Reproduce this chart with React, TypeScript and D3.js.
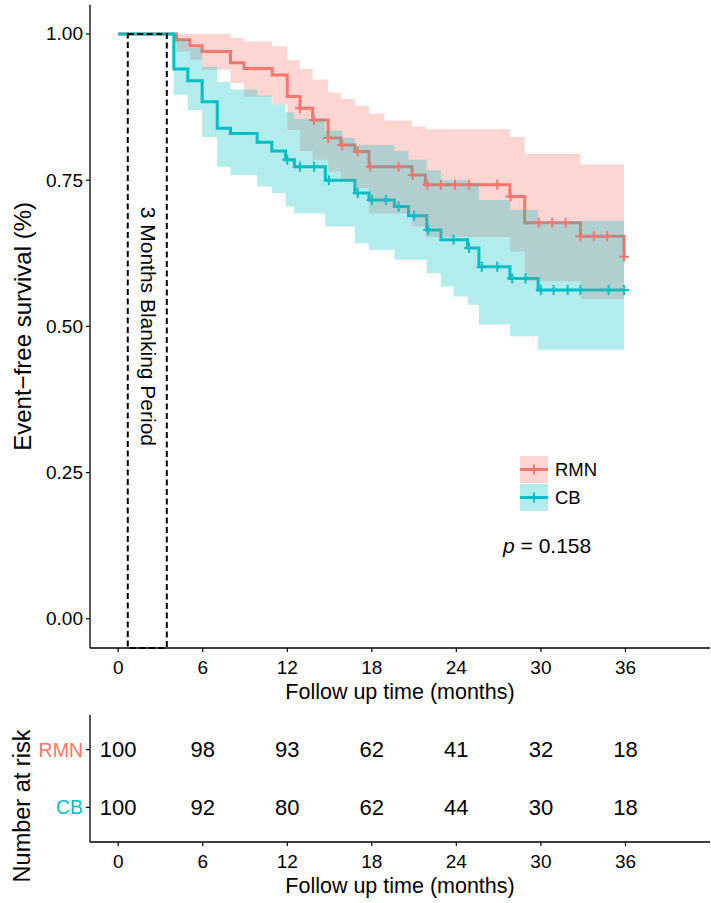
import React from "react";
import * as d3 from "d3";

// ---------- data ----------
const months = [0, 6, 12, 18, 24, 30, 36];
const yTicks = [0, 0.25, 0.5, 0.75, 1];
const groups = ["RMN", "CB"];
const colors = ["#F8766D", "#00BFC4"];

const rmnTime = [0, 4.14, 5.08, 5.96, 7.97, 8.92, 10.93, 12.0, 12.9, 13.8, 14.9, 15.8, 16.8, 17.8, 18.9, 20.85, 21.8, 27.8, 28.85, 32.8, 35.9];
const rmnSurv = [1, 0.99, 0.98, 0.97, 0.951, 0.941, 0.93, 0.893, 0.873, 0.853, 0.822, 0.81, 0.799, 0.773, 0.773, 0.759, 0.742, 0.722, 0.677, 0.654, 0.619];
const rmnUpper = [1, 1, 1, 1, 0.993, 0.987, 0.979, 0.955, 0.94, 0.922, 0.9, 0.889, 0.877, 0.864, 0.852, 0.842, 0.837, 0.824, 0.795, 0.777, 0.777];
const rmnLower = [1, 0.97, 0.956, 0.939, 0.916, 0.893, 0.88, 0.836, 0.8, 0.785, 0.765, 0.748, 0.736, 0.693, 0.693, 0.671, 0.653, 0.628, 0.577, 0.547, 0.547];
const rmnCensor = [12.9, 13.9, 14.9, 15.9, 17.0, 17.9, 19.9, 20.9, 21.95, 22.9, 23.9, 24.9, 26.9, 27.85, 29.85, 30.8, 31.75, 32.8, 33.75, 34.7, 35.9];

const cbTime = [0, 3.95, 4.94, 5.96, 7.03, 7.97, 9.86, 10.9, 11.87, 12.5, 14.7, 15.9, 16.8, 17.8, 19.6, 20.6, 21.9, 22.9, 23.8, 24.8, 25.6, 27.8, 29.8, 35.9];
const cbSurv = [1, 0.94, 0.92, 0.884, 0.839, 0.83, 0.815, 0.8, 0.785, 0.773, 0.75, 0.75, 0.728, 0.716, 0.705, 0.689, 0.665, 0.648, 0.648, 0.634, 0.602, 0.582, 0.5624, 0.5624];
const cbUpper = [1, 0.99, 0.976, 0.944, 0.918, 0.905, 0.895, 0.88, 0.866, 0.855, 0.835, 0.822, 0.81, 0.81, 0.8, 0.785, 0.767, 0.75, 0.75, 0.745, 0.716, 0.699, 0.68, 0.68];
const cbLower = [1, 0.896, 0.87, 0.824, 0.773, 0.759, 0.739, 0.728, 0.705, 0.693, 0.671, 0.671, 0.642, 0.631, 0.614, 0.614, 0.591, 0.568, 0.551, 0.537, 0.503, 0.483, 0.46, 0.46];
const cbCensor = [12.0, 12.9, 13.9, 14.95, 17.0, 18.0, 19.0, 19.9, 21.0, 22.0, 23.8, 24.9, 25.8, 26.9, 27.96, 28.9, 30.0, 30.9, 31.9, 32.8, 34.8, 35.9];

const riskRMN = [100, 98, 93, 62, 41, 32, 18];
const riskCB = [100, 92, 80, 62, 44, 30, 18];

const blanking = [0.68, 3.45];
const pValue = "0.158";

// ---------- layout ----------
const W = 711, H = 903;
const FONT = "'Liberation Sans', Arial, Helvetica, sans-serif";
const left = 90, right = 710;
const top = 4.75, bottom = 648;
const tTop = 715, tBottom = 842;

const x = d3.scaleLinear().domain([-2, 42]).range([left, right]);
const y = d3.scaleLinear().domain([-0.05, 1.05]).range([bottom, top]);
const yt = d3.scaleLinear().domain([0.4, 2.6]).range([tBottom, tTop]);

type Pt = { t: number; s: number; lo: number; hi: number };
const mk = (T: number[], S: number[], L: number[], U: number[]): Pt[] =>
  T.map((t, i) => ({ t, s: S[i], lo: L[i], hi: U[i] }));

const series = [
  { name: groups[0], color: colors[0], pts: mk(rmnTime, rmnSurv, rmnLower, rmnUpper), cens: rmnCensor },
  { name: groups[1], color: colors[1], pts: mk(cbTime, cbSurv, cbLower, cbUpper), cens: cbCensor },
];

const survAt = (pts: Pt[], t: number) => {
  let v = 1;
  for (const p of pts) if (p.t <= t + 1e-9) v = p.s;
  return v;
};

const line = d3.line<Pt>().x((d) => x(d.t)).y((d) => y(d.s)).curve(d3.curveStepAfter);
const area = d3.area<Pt>().x((d) => x(d.t)).y0((d) => y(d.lo)).y1((d) => y(d.hi)).curve(d3.curveStepAfter);

const Plus = ({ cx, cy, color, s = 5 }: { cx: number; cy: number; color: string; s?: number }) => (
  <path d={`M${cx - s},${cy}H${cx + s}M${cx},${cy - s}V${cy + s}`} stroke={color} strokeWidth={2} fill="none" />
);

const XAxis = ({ yPos }: { yPos: number }) => (
  <g>
    <line x1={left} x2={right} y1={yPos} y2={yPos} stroke="#000" strokeWidth={1.3} />
    {months.map((m) => (
      <g key={m}>
        <line x1={x(m)} x2={x(m)} y1={yPos} y2={yPos + 4} stroke="#000" strokeWidth={1.2} />
        <text x={x(m)} y={yPos + 26} textAnchor="middle" fontSize={19} fill="#000">{m}</text>
      </g>
    ))}
    <text x={(left + right) / 2} y={yPos + 51} textAnchor="middle" fontSize={21.5} fill="#000">Follow up time (months)</text>
  </g>
);

export default function App() {
  return (
    <svg width={W} height={H} style={{ position: "absolute", left: 0, top: 0, background: "#fff" }} fontFamily={FONT}>
      <rect width={W} height={H} fill="#fff" />
      {/* lines */}
      {series.map((s) => (
        <path key={s.name + "l"} d={line(s.pts) || ""} fill="none" stroke={s.color} strokeWidth={3} />
      ))}
      {/* ribbons */}
      {series.map((s) => (
        <path key={s.name + "a"} d={area(s.pts) || ""} fill={s.color} fillOpacity={0.3} stroke="none" />
      ))}
      {/* censor marks */}
      {series.map((s) => (
        <g key={s.name + "c"}>
          {s.cens.map((c, i) => (
            <Plus key={i} cx={x(c)} cy={y(survAt(s.pts, c))} color={s.color} />
          ))}
        </g>
      ))}
      {/* blanking period */}
      <rect x={x(blanking[0])} y={y(1)} width={x(blanking[1]) - x(blanking[0])} height={bottom - y(1)}
        fill="none" stroke="#000" strokeWidth={2} strokeDasharray="6,3.5" />
      <text transform={`translate(${x(blanking[0]) + (x(blanking[1]) - x(blanking[0])) / 2 + 1},${y(0.5)}) rotate(90)`}
        textAnchor="middle" dominantBaseline="central" fontSize={21} fill="#000">3 Months Blanking Period</text>

      {/* y axis */}
      <line x1={left} x2={left} y1={top} y2={bottom} stroke="#000" strokeWidth={1.3} />
      {yTicks.map((v) => (
        <g key={v}>
          <line x1={left - 4} x2={left} y1={y(v)} y2={y(v)} stroke="#000" strokeWidth={1.2} />
          <text x={left - 7} y={y(v)} textAnchor="end" dominantBaseline="central" fontSize={19} fill="#000">{v.toFixed(2)}</text>
        </g>
      ))}
      <text transform={`translate(22,${(top + bottom) / 2}) rotate(-90)`} textAnchor="middle" dominantBaseline="central" fontSize={24} fill="#000">Event−free survival (%)</text>
      <XAxis yPos={bottom} />

      {/* legend */}
      {series.map((s, i) => {
        const ky = 456 + i * 28;
        return (
          <g key={s.name + "leg"}>
            <rect x={520} y={ky} width={28} height={27} fill={s.color} fillOpacity={0.3} />
            <line x1={520} x2={548} y1={ky + 13.5} y2={ky + 13.5} stroke={s.color} strokeWidth={3} />
            <Plus cx={534} cy={ky + 13.5} color={s.color} />
            <text x={555} y={ky + 13.5} dominantBaseline="central" fontSize={18.5} fill="#000">{s.name}</text>
          </g>
        );
      })}
      <text x={503} y={553} fontSize={21} fill="#000"><tspan fontStyle="italic">p</tspan> = {pValue}</text>

      {/* risk table */}
      <line x1={left} x2={left} y1={tTop} y2={tBottom} stroke="#000" strokeWidth={1.3} />
      {[riskRMN, riskCB].map((row, gi) => {
        const lvl = 2 - gi;
        return (
          <g key={gi}>
            <line x1={left - 4} x2={left} y1={yt(lvl)} y2={yt(lvl)} stroke="#000" strokeWidth={1.2} />
            <text x={left - 7} y={yt(lvl)} textAnchor="end" dominantBaseline="central" fontSize={19.5} fill={colors[gi]}>{groups[gi]}</text>
            {row.map((n, j) => (
              <text key={j} x={x(months[j])} y={yt(lvl)} textAnchor="middle" dominantBaseline="central" fontSize={22} fill="#000">{n}</text>
            ))}
          </g>
        );
      })}
      <text transform={`translate(22,806) rotate(-90)`} textAnchor="middle" dominantBaseline="central" fontSize={23.5} fill="#000">Number at risk</text>
      <XAxis yPos={tBottom} />
    </svg>
  );
}
